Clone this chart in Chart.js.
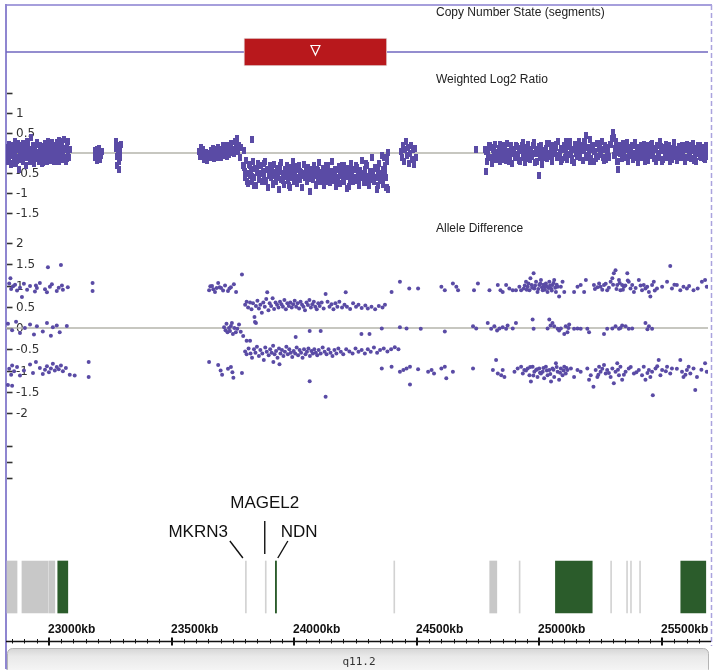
<!DOCTYPE html>
<html><head><meta charset="utf-8">
<script src="https://cdn.jsdelivr.net/npm/chart.js@4.4.1/dist/chart.umd.min.js"></script>
<style>html,body{margin:0;padding:0;background:#fff}#wrap{position:relative;width:713px;height:670px}canvas{display:block}</style>
</head><body><div id="wrap"><canvas id="c" width="713" height="670"></canvas></div>
<script>
// ---------------- DATA ----------------
const X_MIN = 22825, X_MAX = 25687;           // visible window, kb
const panelTitles = ['Copy Number State (segments)', 'Weighted Log2 Ratio', 'Allele Difference'];
const CN_NORMAL = 2;
const cnSegStart = [23795];
const cnSegEnd = [24378];

const log2Ticks = [1.5, 1, 0.5, 0, -0.5, -1, -1.5];
const log2TickLabels = ['', '1', '0.5', '0', '-0.5', '-1', '-1.5'];
const alleleTicks = [2, 1.5, 1, 0.5, 0, -0.5, -1, -1.5, -2];
const alleleTickLabels = ['2', '1.5', '1', '0.5', '0', '-0.5', '-1', '-1.5', '-2'];
const trackTicks = [3, 2, 1];
const kbTicks = [23000, 23500, 24000, 24500, 25000, 25500];
const kbTickLabels = ['23000kb', '23500kb', '24000kb', '24500kb', '25000kb', '25500kb'];
const bandName = 'q11.2';

// Weighted log2 ratio  [kb, value]
const log2A = [[22826,0.15],[22828,-0.08],[22830,-0.22],[22833,0.05],[22836,0.22],[22839,-0.12],[22842,0.02],[22845,-0.28],[22848,0.1],[22851,-0.05],[22854,0.18],[22857,-0.18],[22860,0.3],[22863,-0.02],[22866,-0.25],[22869,0.08],[22872,-0.12],[22875,0.14],[22878,-0.42],[22881,0.02],[22884,0.2],[22887,-0.15],[22890,-0.02],[22893,0.25],[22896,-0.22],[22899,0.08],[22902,-0.08],[22905,0.16],[22908,-0.3],[22911,0.0],[22914,0.22],[22917,-0.12],[22920,0.1],[22923,-0.2],[22926,0.38],[22929,0.04],[22932,-0.16],[22935,0.18],[22938,-0.06],[22941,-0.26],[22944,0.12],[22947,0.02],[22950,-0.14],[22953,0.26],[22956,-0.04],[22959,-0.22],[22962,0.1],[22965,0.2],[22968,-0.1],[22971,-0.02],[22974,0.16],[22977,-0.24],[22980,0.06],[22983,0.24],[22986,-0.12],[22989,0.02],[22992,-0.2],[22995,0.14],[22998,0.3],[23001,-0.06],[23004,-0.18],[23007,0.08],[23010,0.22],[23013,-0.1],[23016,0.0],[23019,-0.22],[23022,0.18],[23025,0.06],[23028,-0.14],[23031,0.26],[23034,-0.04],[23037,-0.2],[23040,0.12],[23043,0.32],[23046,-0.08],[23049,0.04],[23052,-0.16],[23055,0.2],[23058,-0.02],[23061,0.34],[23064,-0.12],[23067,0.08],[23070,-0.2],[23073,0.16],[23076,0.0],[23079,0.28],[23082,-0.1],[23085,0.1]];
const log2A2 = [[22827,0.08],[22833,-0.15],[22839,0.2],[22845,-0.05],[22851,-0.25],[22857,0.12],[22863,0.0],[22869,-0.18],[22875,0.24],[22881,-0.08],[22887,0.06],[22893,-0.2],[22899,0.16],[22905,-0.1],[22911,0.28],[22917,0.02],[22923,-0.14],[22929,0.1],[22935,-0.22],[22941,0.18],[22947,-0.04],[22953,0.22],[22959,-0.12],[22965,0.04],[22971,-0.26],[22977,0.14],[22983,0.0],[22989,0.2],[22995,-0.16],[23001,0.08],[23007,-0.06],[23013,0.26],[23019,-0.18],[23025,0.1],[23031,-0.02],[23037,0.16],[23043,-0.22],[23049,0.06],[23055,0.3],[23061,-0.1],[23067,0.12],[23073,-0.14],[23079,0.04]];
const log2B = [[23186,-0.12],[23189,0.06],[23192,-0.02],[23195,-0.18],[23198,0.1],[23201,-0.08],[23204,0.12],[23207,-0.15],[23210,0.0],[23213,-0.06],[23216,0.04],[23272,0.3],[23274,0.12],[23276,-0.08],[23278,-0.3],[23280,0.2],[23282,-0.02],[23284,-0.2],[23286,-0.42],[23288,0.05],[23290,-0.12],[23292,0.22]];
const log2C = [[23612,0.05],[23616,-0.08],[23620,0.15],[23624,-0.02],[23628,0.1],[23632,-0.15],[23636,-0.05],[23640,0.02],[23644,-0.18],[23648,-0.1],[23652,0.0],[23656,-0.12],[23660,0.06],[23664,-0.06],[23668,0.12],[23672,-0.14],[23676,0.0],[23680,0.08],[23684,-0.1],[23688,0.14],[23692,-0.04],[23696,0.04],[23700,-0.12],[23704,0.1],[23708,0.18],[23712,-0.06],[23716,0.02],[23720,0.12],[23724,-0.08],[23728,0.2],[23732,0.06],[23736,-0.04],[23740,0.16],[23744,0.24],[23748,0.02],[23752,0.1],[23756,-0.02],[23760,0.3],[23764,0.12],[23768,0.36],[23772,0.04],[23776,0.2],[23780,-0.1],[23785,0.14],[23790,-0.3],[23794,0.06],[23827,0.33]];
const log2D = [[23797,-0.35],[23801,-0.62],[23804,-0.18],[23809,-0.5],[23813,-0.75],[23817,-0.28],[23820,-0.55],[23825,-0.42],[23829,-0.7],[23833,-0.22],
[23836,-0.6],[23841,-0.38],[23845,-0.8],[23849,-0.48],[23852,-0.25],[23857,-0.66],[23861,-0.52],[23865,-0.3],[23868,-0.72],[23873,-0.45],
[23877,-0.58],[23881,-0.2],[23884,-0.68],[23889,-0.4],[23893,-0.85],[23897,-0.5],[23900,-0.32],[23905,-0.62],[23909,-0.46],[23913,-0.76],
[23916,-0.28],[23921,-0.55],[23925,-0.7],[23929,-0.38],[23932,-0.6],[23937,-0.9],[23941,-0.45],[23945,-0.24],[23948,-0.65],[23953,-0.52],
[23957,-0.78],[23961,-0.4],[23964,-0.58],[23969,-0.3],[23973,-0.68],[23977,-0.5],[23980,-0.82],[23985,-0.36],[23989,-0.62],[23993,-0.46],
[23996,-0.2],[24001,-0.7],[24005,-0.54],[24009,-0.4],[24012,-0.75],[24017,-0.6],[24021,-0.32],[24025,-0.66],[24028,-0.48],[24033,-0.86],
[24037,-0.52],[24041,-0.28],[24044,-0.62],[24049,-0.44],[24053,-0.72],[24057,-0.36],[24060,-0.58],[24065,-0.95],[24069,-0.5],[24073,-0.4],
[24076,-0.65],[24081,-0.3],[24085,-0.56],[24089,-0.78],[24092,-0.42],[24097,-0.6],[24101,-0.24],[24105,-0.7],[24108,-0.48],[24113,-0.62],
[24117,-0.38],[24121,-0.8],[24124,-0.54],[24129,-0.44],[24133,-0.66],[24137,-0.3],[24140,-0.58],[24145,-0.74],[24149,-0.46],[24153,-0.6],
[24156,-0.22],[24161,-0.68],[24165,-0.5],[24169,-0.84],[24172,-0.4],[24177,-0.62],[24181,-0.34],[24185,-0.56],[24188,-0.76],[24193,-0.48],
[24197,-0.6],[24201,-0.3],[24204,-0.7],[24209,-0.45],[24213,-0.58],[24217,-0.88],[24220,-0.38],[24225,-0.52],[24229,-0.66],[24233,-0.26],
[24236,-0.54],[24241,-0.72],[24245,-0.42],[24249,-0.6],[24252,-0.32],[24257,-0.68],[24261,-0.5],[24265,-0.8],[24268,-0.44],[24273,-0.62],
[24277,-0.18],[24281,-0.56],[24284,-0.74],[24289,-0.4],[24293,-0.64],[24297,-0.3],[24300,-0.58],[24305,-0.82],[24309,-0.48],[24313,-0.66],
[24316,-0.12],[24321,-0.5],[24325,-0.7],[24329,-0.36],[24332,-0.6],[24337,-0.9],[24341,-0.44],[24345,-0.25],[24348,-0.68],[24353,-0.54],
[24357,-0.05],[24361,-0.4],[24364,-0.78],[24369,-0.3],[24373,-0.62],[24377,-0.86],[24380,-0.15],
[24366,-0.1],[24375,-0.85],[24379,-0.22],[24382,0.02],[24384,-0.9]];
const log2D2 = [[23799,-0.45],[23809,-0.7],[23819,-0.3],[23828,-0.58],[23838,-0.82],[23848,-0.4],[23857,-0.64],[23867,-0.5],[23877,-0.26],[23886,-0.72],
[23896,-0.55],[23906,-0.36],[23915,-0.78],[23925,-0.48],[23935,-0.62],[23944,-0.3],[23954,-0.68],[23964,-0.52],[23973,-0.42],[23983,-0.86],
[23993,-0.6],[24002,-0.34],[24012,-0.74],[24022,-0.46],[24031,-0.56],[24041,-0.28],[24051,-0.7],[24060,-0.5],[24070,-0.64],[24080,-0.38],
[24089,-0.8],[24099,-0.44],[24109,-0.58],[24118,-0.66],[24128,-0.32],[24138,-0.72],[24147,-0.48],[24157,-0.6],[24167,-0.4],[24176,-0.76],
[24186,-0.52],[24196,-0.3],[24205,-0.68],[24215,-0.56],[24225,-0.84],[24234,-0.42],[24244,-0.62],[24254,-0.36],[24263,-0.7],[24273,-0.5],
[24283,-0.58],[24292,-0.26],[24302,-0.74],[24312,-0.46],[24321,-0.64],[24331,-0.38],[24341,-0.8],[24350,-0.52],[24360,-0.6],[24370,-0.44]];
const log2E = [[24436,0.05],[24440,-0.1],[24444,0.2],[24448,-0.2],[24452,0.1],[24456,0.28],[24460,-0.05],[24464,0.15],[24468,-0.25],[24472,0.0],[24476,0.18],[24480,-0.15],[24484,0.08],[24488,-0.28],[24493,0.12],[24497,-0.1],[24740,0.1]];
const log2F = [[24779,0.1],[24782,-0.45],[24786,-0.2],[24790,0.05],[24794,0.2],[24798,-0.1],[24803,0.15],[24807,-0.25],[24811,0.08],[24815,-0.05],[24820,0.22],[24824,-0.15],[24828,0.02],[24833,0.12],[24837,-0.22],[24841,0.06],[24846,-0.08],[24850,0.18],[24854,-0.02],[24859,0.1],[24863,-0.18],[24867,0.25],[24872,-0.06],[24876,0.04],[24880,-0.14],[24885,0.16],[24889,-0.26],[24893,0.08],[24898,0.0],[24902,-0.1],[24906,0.2],[24911,-0.04],[24915,0.12],[24919,-0.2],[24924,0.06],[24928,0.18],[24932,-0.12],[24937,0.02],[24941,-0.24],[24945,0.14],[24950,-0.06],[24954,0.22],[24958,0.0],[24963,-0.16],[24967,0.1],[24971,-0.08],[24976,0.26],[24980,-0.02],[24984,0.08],[24989,-0.2],[24993,0.04],[24997,0.16],[25000,-0.55],[25004,-0.1],[25008,0.2],[25012,-0.28],[25016,0.06],[25020,-0.04],[25025,0.12],[25029,-0.14],[25033,0.0],[25037,0.24],[25042,-0.08],[25046,0.1],[25050,-0.18],[25055,0.18],[25059,-0.02],[25063,0.06],[25068,0.14],[25072,-0.12],[25076,0.28],[25081,-0.06],[25085,0.02],[25089,-0.22],[25094,0.12],[25098,0.2],[25102,-0.1],[25107,0.04],[25111,-0.16],[25115,0.16],[25120,-0.04],[25124,0.3],[25128,0.0],[25133,-0.14],[25137,0.1],[25141,-0.24],[25146,0.22],[25150,0.06],[25154,-0.08],[25159,0.12],[25163,0.3],[25167,-0.02],[25172,0.2],[25176,-0.18],[25180,0.08],[25185,0.26],[25189,-0.1],[25191,0.45],[25194,0.14],[25198,-0.06],[25202,0.02],[25207,0.34],[25211,-0.14],[25215,0.1],[25220,0.18],[25224,-0.2],[25228,0.04],[25233,0.24],[25237,-0.08],[25241,0.12],[25246,0.16],[25250,-0.04],[25254,0.3],[25259,-0.12],[25263,0.08],[25268,0.2],[25272,-0.16],[25276,0.02],[25281,0.14],[25285,-0.08],[25289,0.22],[25294,0.36],[25298,0.52],[25302,0.4],[25306,-0.06],[25311,0.28],[25315,0.06],[25319,-0.22],[25321,-0.42],[25324,0.18],[25328,-0.02],[25333,0.08],[25337,-0.14],[25341,0.24],[25346,0.02],[25350,-0.1],[25354,0.16],[25359,-0.2],[25363,0.04],[25367,0.12],[25372,-0.06],[25376,0.2],[25380,-0.16],[25385,0.0],[25389,0.26],[25393,-0.1],[25398,0.08],[25402,-0.24],[25406,0.14],[25411,-0.02],[25415,0.18],[25419,-0.12],[25424,0.06],[25428,0.22],[25432,-0.08],[25437,0.1],[25441,-0.18],[25445,0.02],[25450,0.16],[25454,-0.06],[25458,0.24],[25463,0.04],[25467,-0.14],[25471,0.12],[25476,-0.2],[25480,0.2],[25484,0.0],[25489,-0.1],[25493,0.28],[25497,0.06],[25502,-0.16],[25506,0.14],[25510,-0.04],[25515,0.22],[25519,-0.12],[25523,0.08],[25528,0.18],[25532,-0.22],[25536,0.02],[25541,0.12],[25545,-0.08],[25549,0.26],[25554,-0.02],[25558,0.1],[25562,-0.18],[25567,0.16],[25571,0.04],[25575,-0.12],[25580,0.2],[25584,-0.06],[25588,0.14],[25593,-0.2],[25597,0.08],[25601,0.22],[25606,-0.1],[25610,0.02],[25614,0.18],[25619,-0.14],[25623,0.06],[25627,0.24],[25632,-0.04],[25636,0.12],[25640,-0.22],[25645,0.1],[25649,0.0],[25653,0.2],[25658,-0.12],[25662,0.14],[25666,-0.02],[25671,0.08],[25675,-0.16],[25679,0.18],[25684,0.04],[25686,-0.08]];
const log2F2 = [[24781,0.05],[24789,-0.12],[24798,0.18],[24805,-0.2],[24813,0.1],[24822,0.0],[24829,-0.08],[24837,0.22],[24846,-0.16],[24853,0.06],[24861,0.14],[24870,-0.04],[24877,-0.22],[24885,0.2],[24894,0.02],[24901,-0.1],[24909,0.16],[24918,-0.18],[24925,0.08],[24933,0.26],[24942,-0.06],[24949,0.12],[24957,-0.14],[24966,0.04],[24973,0.2],[24981,-0.24],[24990,0.1],[24997,-0.02],[25005,0.18],[25014,-0.12],[25021,0.06],[25029,0.24],[25038,-0.08],[25045,0.14],[25053,-0.2],[25062,0.02],[25069,0.22],[25077,-0.1],[25086,0.12],[25093,-0.16],[25101,0.08],[25110,0.28],[25117,-0.04],[25125,0.16],[25134,-0.18],[25141,0.1],[25149,0.0],[25158,0.2],[25165,-0.12],[25173,0.06],[25182,0.3],[25189,-0.08],[25197,0.14],[25206,-0.22],[25213,0.18],[25221,0.04],[25230,-0.14],[25237,0.24],[25245,-0.02],[25254,0.1],[25261,-0.18],[25269,0.16],[25278,0.06],[25285,-0.1],[25293,0.22],[25302,-0.06],[25309,0.12],[25317,-0.2],[25326,0.02],[25333,0.18],[25341,-0.12],[25350,0.08],[25357,0.26],[25365,-0.04],[25374,0.14],[25381,-0.16],[25389,0.2],[25398,0.0],[25405,-0.1],[25413,0.12],[25422,0.04],[25429,-0.2],[25437,0.18],[25446,-0.06],[25453,0.22],[25461,0.08],[25470,-0.14],[25477,0.1],[25485,-0.02],[25494,0.16],[25501,-0.22],[25509,0.06],[25518,0.2],[25525,-0.08],[25533,0.12],[25542,-0.16],[25549,0.24],[25557,0.02],[25566,-0.12],[25573,0.14],[25581,0.0],[25590,0.18],[25597,-0.1],[25605,0.08],[25614,-0.04],[25621,0.16],[25629,-0.18],[25638,0.06],[25645,0.2],[25653,-0.08],[25662,0.1],[25669,-0.14],[25677,0.12],[25685,0.02]];

// Allele difference [kb, value]
const alleleLeft = [[22838,1.05],[22843,1.17],[22846,0.92],[22854,0.98],[22862,1.02],[22870,0.88],[22882,0.95],[22890,0.73],[22898,1.04],[22911,0.9],[22923,0.99],[22943,0.86],[22947,1.0],[22951,0.94],[22963,1.06],[22984,0.91],[22992,0.84],[22996,1.43],[23004,0.97],[23012,1.03],[23032,0.87],[23040,0.95],[23049,1.48],[23053,1.0],[23057,0.9],[23077,0.96],[23178,1.06],[23178,0.87],
[22833,0.1],[22850,-0.05],[22866,0.15],[22882,-0.12],[22902,0.0],[22923,0.08],[22939,-0.15],[22951,0.04],[22975,-0.08],[22992,0.12],[23008,-0.18],[23016,0.02],[23032,0.06],[23044,-0.1],[23073,0.05],
[22838,-0.96],[22846,-1.1],[22850,-0.88],[22858,-1.02],[22870,-0.92],[22882,-1.12],[22898,-1.0],[22923,-0.86],[22935,-1.06],[22947,-0.8],[22963,-0.94],[22975,-1.08],[22984,-0.98],[22992,-0.9],[23000,-1.04],[23008,-0.95],[23016,-0.84],[23024,-1.0],[23032,-0.92],[23040,-0.97],[23049,-0.88],[23057,-1.02],[23069,-0.94],[23085,-1.1],[23105,-1.12],[23162,-0.8],[23162,-1.15],[22833,-1.34],[22850,-1.36]];
const alleleBefore = [[23653,0.89],[23658,0.98],[23665,0.99],[23670,0.91],[23677,0.85],[23684,0.94],[23690,1.06],[23696,0.96],[23702,0.94],[23710,0.88],[23718,1.0],[23730,0.87],[23736,0.93],[23742,0.96],[23754,1.03],[23763,0.85],[23787,1.26],
[23714,0.02],[23720,-0.05],[23724,0.1],[23728,-0.1],[23734,0.0],[23738,-0.07],[23742,0.05],[23746,0.12],[23750,-0.14],[23756,0.0],[23762,-0.1],[23768,-0.02],[23775,0.08],[23782,-0.09],[23792,-0.19],[23806,-0.3],[23820,-0.3],[23840,0.14],
[23653,-0.8],[23690,-0.87],[23700,-1.0],[23706,-1.1],[23730,-0.96],[23742,-0.92],[23748,-1.04],[23752,-1.17],[23787,-1.06]];
const alleleDeleted = [[23800,0.55],[23806,0.62],[23812,0.48],[23820,0.6],[23826,0.44],[23832,0.58],[23838,0.26],[23844,0.52],[23850,0.64],[23856,0.46],[23862,0.55],[23868,0.36],[23874,0.6],[23880,0.5],[23886,0.68],[23890,0.84],[23895,0.42],[23900,0.58],[23906,0.52],[23912,0.7],[23918,0.45],[23924,0.6],[23930,0.55],[23936,0.48],[23942,0.62],[23948,0.56],[23954,0.5],[23960,0.66],[23966,0.44],[23972,0.58],[23978,0.52],[23984,0.6],[23990,0.48],[23996,0.56],[24002,0.64],[24008,0.5],[24014,0.58],[24020,0.46],[24026,0.62],[24032,0.55],[24038,0.5],[24044,0.42],[24050,0.6],[24056,0.54],[24062,0.66],[24068,0.48],[24074,0.56],[24080,0.62],[24086,0.5],[24092,0.44],[24098,0.58],[24104,0.52],[24112,0.6],[24120,0.46],[24128,0.8],[24136,0.62],[24144,0.5],[24152,0.56],[24160,0.44],[24168,0.58],[24176,0.5],[24184,0.62],[24195,0.48],[24205,0.55],[24210,0.84],[24215,0.5],[24228,0.45],[24240,0.58],[24252,0.5],[24262,0.55],[24275,0.47],[24290,0.53],[24300,0.46],[24315,0.5],[24330,0.44],[24345,0.52],[24360,0.48],[24370,0.55],
[23844,0.12],[24006,-0.21],[24063,-0.07],[24108,-0.07],[24274,-0.14],[24307,-0.14],
[23800,-0.55],[23806,-0.62],[23814,-0.48],[23822,-0.6],[23828,-0.7],[23836,-0.5],[23842,-0.58],[23848,-0.44],[23856,-0.66],[23862,-0.52],[23870,-0.6],[23876,-0.75],[23882,-0.46],[23888,-0.56],[23896,-0.64],[23902,-0.5],[23908,-0.58],[23914,-0.42],[23915,-0.8],[23920,-0.62],[23926,-0.54],[23932,-0.7],[23938,-0.48],[23940,-0.85],[23944,-0.6],[23950,-0.52],[23956,-0.66],[23962,-0.56],[23968,-0.44],[23974,-0.62],[23980,-0.5],[23986,-0.58],[23992,-0.68],[23998,-0.54],[24004,-0.6],[24010,-0.46],[24016,-0.64],[24022,-0.52],[24028,-0.58],[24034,-0.7],[24040,-0.5],[24046,-0.62],[24052,-0.56],[24058,-0.48],[24063,-1.25],[24064,-0.66],[24070,-0.54],[24076,-0.6],[24082,-0.5],[24088,-0.58],[24094,-0.64],[24100,-0.52],[24108,-0.6],[24116,-0.46],[24124,-0.56],[24128,-1.62],[24132,-0.62],[24140,-0.5],[24148,-0.58],[24156,-0.66],[24164,-0.52],[24172,-0.6],[24180,-0.48],[24190,-0.56],[24200,-0.62],[24212,-0.5],[24225,-0.55],[24238,-0.6],[24250,-0.48],[24262,-0.56],[24275,-0.52],[24288,-0.6],[24300,-0.5],[24312,-0.56],[24325,-0.46],[24338,-0.58],[24350,-0.52],[24365,-0.48],[24380,-0.55],[24395,-0.5],[24410,-0.45],[24425,-0.5]];
const alleleRight = [[24397,0.85],[24431,1.09],[24469,0.93],[24505,0.93],[24600,0.97],[24614,0.89],[24647,1.05],[24661,0.97],[24668,0.89],[24733,0.89],[24749,1.05],[24796,0.89],[24830,1.01],[24841,0.89],[24850,0.85],[24864,1.01],[24877,0.93],[24891,0.89],[24904,0.89],[24918,0.97],[24925,0.89],[24936,0.93],[24945,1.09],[24952,0.97],[24959,0.89],[24963,1.17],[24968,1.01],[24976,1.29],[24979,0.93],[24986,1.09],[24992,0.85],[24999,1.01],[25006,1.13],[25013,0.89],[25019,0.97],[25026,1.05],[25033,0.85],[25040,1.09],[25047,0.93],[25053,1.01],[25060,1.13],[25067,0.85],[25074,0.97],[25080,0.74],[25087,0.97],[25094,1.09],[25101,0.85],[25141,0.85],[25155,0.97],[25168,1.01],[25182,0.85],[25189,1.13],[25222,1.01],[25243,1.05],[25249,0.97],[25263,1.01],[25276,0.89],[25290,1.09],[25297,1.17],[25303,1.29],[25310,1.36],[25317,1.01],[25324,1.13],[25330,0.89],[25337,1.01],[25344,0.97],[25358,1.29],[25364,1.09],[25371,0.93],[25378,1.01],[25385,0.85],[25405,1.13],[25418,0.89],[25425,1.01],[25439,0.97],[25446,0.85],[25452,0.74],[25459,1.01],[25466,1.09],[25479,0.93],[25520,1.09],[25533,1.46],[25540,0.93],[25560,1.01],[25574,0.89],[25587,0.97],[25601,0.93],[25628,0.89],[25662,1.09],[25675,1.13],[25682,0.97],
[24940,1.0],[24948,0.9],[24955,1.05],[24970,0.95],[24982,1.0],[24995,0.92],[25003,1.05],[25010,0.96],[25016,1.02],[25022,0.9],[25029,0.98],[25036,0.94],[25043,1.0],[25050,0.88],[25057,1.06],[25064,0.95],[25070,1.02],[25226,0.92],[25236,0.96],[25256,0.9],[25270,1.04],[25283,0.95],[25300,1.02],[25314,0.92],[25327,1.06],[25340,0.9],[25350,1.0],[25360,1.12],[25392,0.94],[25412,1.0],[25432,0.93],[25470,0.88],[25500,0.97],[25550,1.02],[25610,0.99],[25645,0.93],
[24357,-0.01],[24431,0.02],[24458,-0.01],[24516,-0.02],[24614,-0.08],[24729,0.04],[24742,-0.01],[24789,0.12],[24803,-0.02],[24816,0.04],[24827,-0.06],[24837,-0.01],[24850,0.02],[24864,-0.02],[24870,0.06],[24891,-0.01],[24904,0.12],[24972,0.2],[24976,-0.02],[25033,-0.01],[25040,0.2],[25045,0.06],[25053,0.12],[25060,0.04],[25074,-0.02],[25080,-0.06],[25087,-0.01],[25101,-0.14],[25107,0.04],[25114,-0.1],[25118,0.0],[25121,0.08],[25141,-0.02],[25155,-0.01],[25168,-0.02],[25195,-0.02],[25202,-0.1],[25263,-0.14],[25276,-0.02],[25297,-0.01],[25310,0.04],[25324,-0.02],[25330,0.0],[25337,0.06],[25351,0.04],[25364,-0.02],[25378,-0.01],[25432,0.12],[25440,-0.03],[25446,0.04],[25459,-0.02],
[24357,-0.95],[24397,-0.91],[24431,-1.03],[24445,-0.99],[24458,-0.95],[24472,-0.91],[24472,-1.33],[24505,-0.97],[24546,-1.03],[24560,-0.99],[24570,-1.07],[24600,-0.95],[24614,-0.91],[24620,-1.18],[24647,-1.03],[24729,-0.95],[24810,-0.99],[24823,-0.75],[24830,-1.07],[24844,-1.11],[24850,-0.99],[24857,-1.15],[24898,-1.03],[24911,-0.95],[24925,-0.91],[24932,-1.07],[24938,-0.99],[24952,-0.95],[24959,-1.11],[24965,-1.26],[24972,-0.91],[24979,-1.03],[24986,-0.99],[24992,-1.15],[24999,-0.95],[25006,-1.07],[25013,-1.03],[25019,-1.18],[25026,-0.91],[25033,-1.11],[25040,-0.99],[25047,-1.26],[25053,-0.95],[25060,-1.15],[25067,-0.83],[25074,-1.03],[25080,-1.22],[25087,-0.95],[25094,-1.11],[25101,-0.91],[25107,-1.07],[25114,-0.99],[25128,-0.95],[25141,-1.15],[25155,-0.99],[25168,-1.03],[25195,-0.95],[25202,-1.22],[25209,-1.11],[25220,-1.38],[25229,-0.99],[25236,-1.15],[25243,-0.91],[25249,-1.03],[25263,-0.87],[25270,-1.07],[25276,-0.99],[25290,-1.15],[25297,-0.95],[25303,-1.3],[25310,-1.03],[25317,-0.83],[25324,-1.11],[25330,-0.91],[25337,-1.22],[25351,-1.03],[25364,-0.95],[25385,-1.07],[25405,-0.99],[25418,-1.11],[25425,-0.91],[25432,-1.22],[25446,-0.99],[25452,-1.15],[25459,-1.03],[25462,-1.58],[25473,-0.95],[25486,-0.75],[25493,-1.11],[25500,-0.99],[25520,-0.91],[25533,-1.07],[25540,-0.95],[25574,-0.75],[25581,-1.03],[25587,-1.15],[25601,-0.99],[25608,-0.91],[25615,-1.07],[25628,-0.95],[25635,-1.46],[25642,-1.15],[25675,-0.83],[25682,-1.03],
[24945,-1.0],[24962,-0.92],[24975,-1.12],[24990,-0.97],[25002,-1.05],[25016,-0.94],[25030,-1.0],[25044,-1.08],[25057,-0.98],[25070,-0.92],[25084,-1.05],[25098,-1.0],[25110,-0.94],[25240,-1.1],[25256,-0.96],[25283,-1.06],[25320,-0.98],[25344,-1.1],[25372,-0.92],[25395,-1.04],[25440,-1.06],[25480,-0.9],[25515,-1.02],[25560,-0.96],[25595,-1.1],[25660,-0.98]];

// Gene / feature track
const trackStart = [22829, 22890, 22999, 23036, 23801, 23882, 23923, 24406, 24797, 24917, 25065, 25290, 25355, 25371, 25408, 25576];
const trackEnd   = [22870, 22995, 23024, 23077, 23805, 23886, 23928, 24410, 24826, 24921, 25215, 25294, 25359, 25375, 25412, 25678];
const trackKind  = ['box','box','box','gene','thin','thin','gene','thin','box','thin','gene','thin','thin','thin','thin','gene'];
const geneNames = ['MKRN3', 'MAGEL2', 'NDN'];
const genePos   = [23803, 23884, 23925];

// ---------------- STYLE / LAYOUT ----------------
const PT = 'rgb(90,75,165)';
const AREA_TOP = 5, AREA_BOTTOM = 641;
function fitRange(v1, p1, v2, p2) { const k = (v1 - v2) / (p2 - p1); return { min: v2 - (AREA_BOTTOM - p2) * k, max: v1 + (p1 - AREA_TOP) * k }; }
const rCN = fitRange(2, 52, 1, 72), rLog = fitRange(1.5, 93, -1.5, 213), rAl = fitRange(2, 243, -2, 413), rTr = fitRange(3, 446, 1, 478), rGene = fitRange(1, 561, -1, 613);
const kindColor = { box: '#c8c8c8', thin: '#d2d2d2', gene: '#2b5c2b' };
const labelStyle = [
  { tx: -18, ty: 532, align: 'right', line: [-16, 541, -3, 558] },
  { tx: -1, ty: 503, align: 'center', line: [-1, 521, -1, 554] },
  { tx: 5, ty: 532, align: 'left', line: [12, 541, 2, 558] }
];

const dash = document.createElement('canvas'); dash.width = 4; dash.height = 7;
{ const d = dash.getContext('2d'); d.fillStyle = PT; d.fillRect(0, 0, 4, 7); }
const toXY = a => a.map(([x, y]) => ({ x, y }));
const ySc = (r, extra) => Object.assign({ type: 'linear', axis: 'y', display: false, min: r.min, max: r.max, bounds: 'data', offset: false, beginAtZero: false }, extra || {});

const decor = {
  id: 'decor',
  beforeDraw(chart) { const c = chart.ctx; c.save(); c.fillStyle = '#fff'; c.fillRect(0, 0, chart.width, chart.height); c.restore(); },
  beforeDatasetsDraw(chart) {
    const c = chart.ctx, S = chart.scales, xs = S.x;
    c.save();
    // frame
    c.strokeStyle = '#a69fdc'; c.lineWidth = 2;
    c.beginPath(); c.moveTo(5, 5); c.lineTo(712, 5); c.stroke();
    c.strokeStyle = '#8f86d0'; c.beginPath(); c.moveTo(6, 4); c.lineTo(6, 669); c.stroke();
    c.beginPath(); c.moveTo(6, 668.5); c.lineTo(22, 668.5); c.stroke();
    c.setLineDash([5, 3]); c.strokeStyle = '#aaa3de'; c.lineWidth = 1.5;
    c.beginPath(); c.moveTo(711.5, 5); c.lineTo(711.5, 646); c.stroke(); c.setLineDash([]);
    // titles
    c.fillStyle = '#222'; c.font = '12px "Liberation Sans", Arial, sans-serif'; c.textBaseline = 'middle'; c.textAlign = 'left';
    c.fillText(panelTitles[0], 436, 13); c.fillText(panelTitles[1], 436, 80); c.fillText(panelTitles[2], 436, 229);
    // y ticks
    const axes = [['yLog', log2Ticks, log2TickLabels], ['yAllele', alleleTicks, alleleTickLabels], ['yTrack', trackTicks, trackTicks.map(() => '')]];
    c.font = '12px "DejaVu Sans", Verdana, sans-serif'; c.fillStyle = '#333'; c.strokeStyle = '#333'; c.lineWidth = 1.6;
    for (const [id, t, l] of axes) {
      const sc = S[id];
      t.forEach((v, i) => { const y = Math.round(sc.getPixelForValue(v)) + 0.5; c.beginPath(); c.moveTo(7, y); c.lineTo(12.5, y); c.stroke(); if (l[i]) c.fillText(l[i], 16, y); });
    }
    // gene labels
    c.font = '17px "Liberation Sans", Arial, sans-serif'; c.fillStyle = '#111'; c.strokeStyle = '#111'; c.lineWidth = 1.4;
    geneNames.forEach((g, i) => {
      const px = xs.getPixelForValue(genePos[i]), st = labelStyle[i];
      c.textAlign = st.align; c.fillText(g, px + st.tx, st.ty);
      c.beginPath(); c.moveTo(px + st.line[0], st.line[1]); c.lineTo(px + st.line[2], st.line[3]); c.stroke();
    });
    // kb axis
    const ay = 641.5;
    c.strokeStyle = '#111'; c.lineWidth = 1.6;
    c.beginPath(); c.moveTo(6, ay); c.lineTo(711, ay); c.stroke();
    c.lineWidth = 1;
    for (let v = Math.ceil(X_MIN / 50) * 50; v <= X_MAX; v += 50) {
      const px = Math.round(xs.getPixelForValue(v)) + 0.5; c.beginPath(); c.moveTo(px, ay - 2.5); c.lineTo(px, ay + 2); c.stroke();
    }
    c.lineWidth = 2; c.font = 'bold 12px "Liberation Sans", Arial, sans-serif'; c.textAlign = 'left'; c.fillStyle = '#111';
    kbTicks.forEach((v, i) => {
      const px = Math.round(xs.getPixelForValue(v)); c.beginPath(); c.moveTo(px, ay - 4); c.lineTo(px, ay + 4); c.stroke();
      c.fillText(kbTickLabels[i], px - 1, 630);
    });
    // cytoband bar
    const g = c.createLinearGradient(0, 648, 0, 672); g.addColorStop(0, '#d4d4d4'); g.addColorStop(0.35, '#e9e9e9'); g.addColorStop(1, '#f6f6f6');
    c.fillStyle = g; c.strokeStyle = '#b4b4b4'; c.lineWidth = 1;
    c.beginPath(); c.roundRect(7.5, 648.5, 701, 26, 5); c.fill(); c.stroke();
    c.fillStyle = '#333'; c.font = '11px "DejaVu Sans Mono", monospace'; c.textAlign = 'center';
    c.fillText(bandName, 359, 662);
    c.restore();
  },
  afterDatasetsDraw(chart) {
    const c = chart.ctx, meta = chart.getDatasetMeta(1);
    c.save(); c.strokeStyle = '#fff'; c.lineWidth = 1.2;
    for (const el of meta.data) {
      const cx = (el.x + el.base) / 2, cy = el.y - 2;
      c.beginPath(); c.moveTo(cx - 4.5, cy - 4.5); c.lineTo(cx + 4.5, cy - 4.5); c.lineTo(cx, cy + 5); c.closePath(); c.stroke();
    }
    c.restore();
  }
};

new Chart(document.getElementById('c'), {
  type: 'scatter',
  data: {
    datasets: [
      { type: 'line', yAxisID: 'yCN', data: [{ x: X_MIN, y: CN_NORMAL }, { x: X_MAX, y: CN_NORMAL }], borderColor: '#7067bf', borderWidth: 1.5, pointRadius: 0, order: 5 },
      { type: 'bar', indexAxis: 'y', xAxisID: 'x', yAxisID: 'yCN', data: cnSegStart.map((s, i) => ({ x: [s, cnSegEnd[i]], y: CN_NORMAL })), backgroundColor: '#b8181c', borderColor: '#e4dcdc', borderWidth: 1, borderSkipped: false, barThickness: 28, grouped: false, order: 1 },
      { type: 'line', yAxisID: 'yLog', data: [{ x: X_MIN, y: 0 }, { x: X_MAX, y: 0 }], borderColor: '#b5b5ab', borderWidth: 1.5, pointRadius: 0, order: 10 },
      { type: 'scatter', yAxisID: 'yLog', data: toXY([].concat(log2A, log2A2, log2B, log2C, log2D, log2D2, log2E, log2F, log2F2)), pointStyle: dash, pointRadius: 3, order: 2 },
      { type: 'line', yAxisID: 'yAllele', data: [{ x: X_MIN, y: 0 }, { x: X_MAX, y: 0 }], borderColor: '#b5b5ab', borderWidth: 1.5, pointRadius: 0, order: 10 },
      { type: 'scatter', yAxisID: 'yAllele', data: toXY([].concat(alleleLeft, alleleBefore, alleleDeleted, alleleRight)), pointStyle: 'circle', pointRadius: 2, pointBorderWidth: 0, backgroundColor: PT, order: 2 },
      { type: 'bar', indexAxis: 'y', xAxisID: 'x', yAxisID: 'yGene', data: trackStart.map((s, i) => ({ x: [s, trackEnd[i]], y: 0 })), backgroundColor: trackKind.map(k => kindColor[k]), borderWidth: 0, barThickness: 52, grouped: false, order: 3 }
    ]
  },
  options: {
    responsive: false, animation: false, devicePixelRatio: 1,
    layout: { padding: { left: 6, right: 2, top: AREA_TOP, bottom: 670 - AREA_BOTTOM } },
    plugins: { legend: { display: false }, tooltip: { enabled: false } },
    scales: {
      x: { type: 'linear', axis: 'x', display: false, min: X_MIN, max: X_MAX, bounds: 'data', offset: false, beginAtZero: false },
      yCN: ySc(rCN), yLog: ySc(rLog), yAllele: ySc(rAl), yTrack: ySc(rTr), yGene: ySc(rGene)
    }
  },
  plugins: [decor]
});
</script></body></html>
